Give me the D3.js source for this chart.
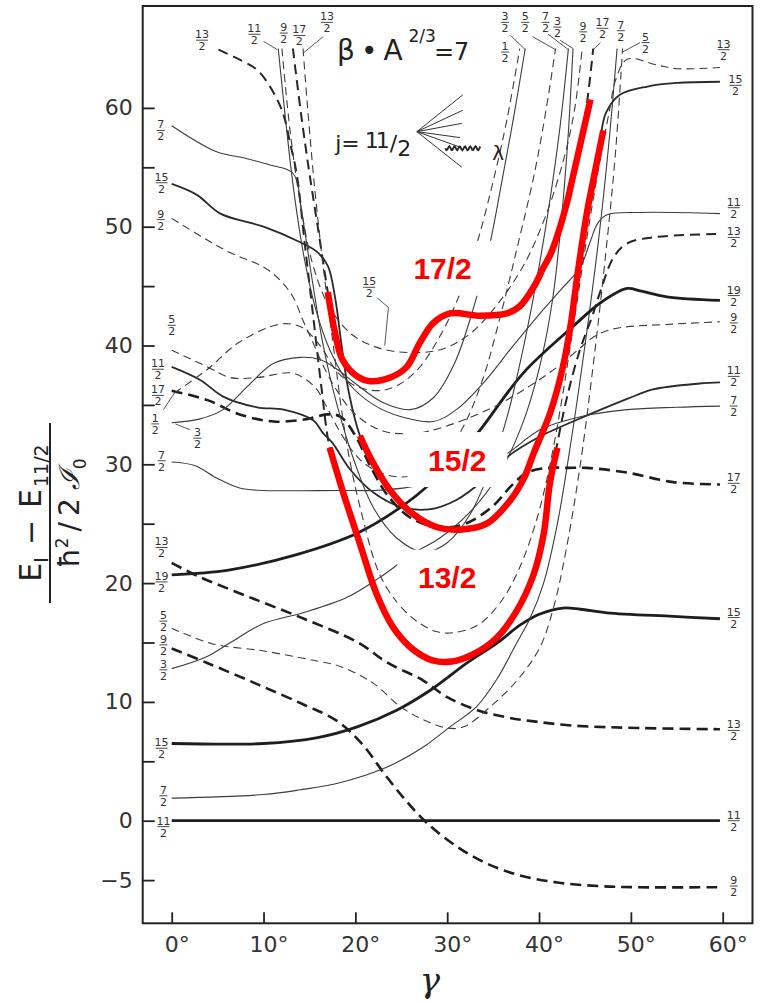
<!DOCTYPE html>
<html>
<head>
<meta charset="utf-8">
<script src="https://cdn.jsdelivr.net/npm/d3@7"></script>
<style>
  html, body { margin: 0; padding: 0; background: #fff; }
  svg { display: block; }
</style>
</head>
<body>
<svg id="chart" width="762" height="1002"></svg>
<script>
// ---- Energy levels E_I - E_11/2 (units of hbar^2/2J0) versus gamma (deg) ----
// Each array is one level: [gamma, energy] pairs.

// lowest levels
const lvl11_ground = [[0,0],[59.7,0]];
const lvl9_low = [[0,14.5],[3.8,13.3],[9.3,11.5],[14.3,9.8],[18,8.4],[20.8,6.4],[23.2,3.9],[25.5,1.7],[27.8,-0.2],[31.1,-2.2],[34.3,-3.6],[37.9,-4.6],[42.0,-5.2],[46.4,-5.5],[50.7,-5.6],[59.7,-5.6]];
const lvl15_low = [[0,6.5],[10,6.5],[15.9,7.0],[20.2,7.9],[24.5,9.3],[28.2,11.0],[32.2,13.3],[35.5,15.0],[38.0,16.5],[40.1,17.4],[42.6,17.9],[44.5,17.8],[47.4,17.5],[54.6,17.2],[59.7,17.0]];
const lvl13_low = [[0,21.7],[2.8,20.6],[8.2,18.9],[14.4,17.0],[20.3,15.0],[23.5,13.3],[27.4,11.8],[30.0,10.4],[33.3,9.3],[36.5,8.7],[39.0,8.4],[43.8,8.0],[51,7.8],[59.7,7.7]];
const lvl7_low = [[0,1.9],[10,2.2],[14,2.6],[18.3,3.2],[23.4,4.5],[27.4,6.2],[30.3,7.9],[33.2,9.6],[35.4,11.9],[37.6,15.0],[39.0,17.0],[40.5,20],[42,25],[43.5,32],[45,40],[46.5,49],[47.6,57],[48.5,65]];
const lvl5_low = [[0,16.2],[4.4,14.9],[9.9,14.3],[15.4,13.5],[18.3,13.0],[21.9,11.6],[24.9,9.6],[27.4,8.5],[30,7.8],[31.8,7.9],[34.7,9.6],[37.6,11.8],[40.1,14.6],[41.6,18],[43,23],[44.5,30],[46,39],[47.3,48],[48.3,56],[49.1,65]];
const lvl3_low = [[0,12.8],[3.8,13.8],[6.4,15.0],[10,16.6],[14.3,17.5],[19.1,18.8],[22.7,20.5],[26.3,22.5],[29.2,23.8],[32.5,26],[35.5,29],[38,33],[40,38],[41.5,44],[42.6,52],[43.2,58],[43.7,65]];
const lvl19 = [[0,20.7],[6.2,21.1],[13.6,22.4],[20.2,24.2],[24.6,26.2],[28.5,28.6],[31.5,31.0],[33.6,32.9],[38.3,37.7],[43.7,41.6],[46.7,43.6],[49.6,44.8],[51.0,44.6],[53.9,44.1],[59.7,43.8]];

// middle and upper levels
const lvl17_a = [[0,36.2],[3.9,35.4],[7.4,34.2],[11.1,33.6],[14.7,33.8],[16.9,34.2],[18.4,34.0],[20,32.4],[21.6,29.9],[23.5,27.4],[26,25.5],[29,24.7],[32,25.0],[35,26.5],[37,28.2],[38.7,29.3],[41,29.7],[43.1,29.7],[45.2,29.7],[49.6,29.3],[54.6,28.5],[59.7,28.3]];
const lvl17_b = [[13.2,65],[14.0,60],[14.9,55],[15.9,50],[17.0,44.5],[17.7,41.4],[18.6,38.8],[20.2,37.4],[21.6,37.0],[23.8,37.3],[25.6,38.2],[27.0,40.2],[28.5,41.9],[30.3,42.7],[33.6,42.5],[36.5,42.7],[37.9,43.3],[39.4,44.9],[40.5,46.6],[41.2,47.6],[42.1,49.5],[43.1,52.2],[44.0,55.4],[44.9,58.8],[45.4,61.5],[45.9,65]];
const lvl15_b = [[0,53.6],[2.7,52.7],[5.3,51.1],[10,50.0],[13.7,48.8],[15.8,47.9],[17.0,46.7],[17.8,44.0],[18.5,40],[19.3,36],[20.5,32.4],[21.6,30.6],[23.8,27.8],[26.3,25.8],[28.9,24.7],[31.4,24.5],[34.3,25.0],[36.9,27.0],[38.4,28.9],[39.4,30.9],[41.2,34.3],[42.6,38.2],[43.5,42],[44.1,45.5],[45.2,51.1],[45.9,53.9],[46.7,57.6],[47.3,59.6],[48.8,61.1],[51.8,61.8],[55,62.1],[59.7,62.2]];
const lvl13_b = [[5.1,64.9],[7.8,63.9],[9.3,63.2],[10.7,61.8],[12.1,59.6],[12.9,57.0],[13.6,54.5],[14.5,48.5],[15.4,42.5],[16.3,36.5],[17.2,31.4],[18.6,27.8],[20.5,23.3],[22.3,19.1],[24.1,16.3],[26.3,14.4],[28.4,13.5],[30.5,13.4],[32.8,14.0],[35.4,15.4],[37.6,17.7],[39.4,20.7],[40.5,24.1],[41.2,28.5],[41.9,31.4],[43,35.5],[44.4,39.5],[45.9,42.7],[46.7,44.6],[48.1,47.4],[49.6,48.6],[52.4,49.1],[59.7,49.4]];
const lvl13_c = [[14.3,65],[14.8,60],[15.6,53],[16.6,46],[17.6,40],[18.6,34],[19.6,29.5],[20.8,25.5],[22.2,21.6],[23.5,19.5],[26,17.2],[28.9,15.9],[31.3,15.9],[33.6,16.6],[36,18.6],[38,21.5],[39.8,25.5],[41.2,30],[42.5,35.5],[43.8,42],[45.2,49],[46.5,55],[47.6,59.5],[48.4,62.5],[49.6,64.1],[52.9,63.6],[55,63.3],[59.7,63.4]];
const lvl11_b = [[11.6,65],[12.4,59],[13.3,53],[14.4,47.5],[15.7,43],[17.3,39.5],[19.3,36.8],[22,35],[25,34.0],[28.5,33.6],[31,34.6],[34,36.9],[37,39.8],[40,42.6],[42.5,44.8],[44.5,46.6],[45.6,48.8],[46.4,50.3],[47.4,51.0],[51,51.2],[59.7,51.1]];
const lvl11_c = [[0,38.2],[3.1,37.1],[5.6,35.7],[9.3,34.8],[12.2,34.6],[15.4,33.7],[16.5,32.6],[17.5,31.8],[19.5,29.5],[22,27.6],[25,26.4],[28,26.2],[31,27],[34,28.7],[36.5,30.6],[40,32.3],[43.7,33.6],[49.6,35.5],[52.4,36.3],[57.5,36.8],[59.7,36.9]];
const lvl9_b = [[12.0,65],[12.9,58],[14.0,52],[15.3,47],[17,43.5],[19.5,41],[22.5,39.8],[26,39.4],[29.5,39.7],[32.5,41],[35.5,43.5],[38.5,47],[41,51.5],[42.8,56],[43.9,60],[44.7,65]];
const lvl9_c = [[0,50.7],[3.4,49.1],[6.4,47.8],[10,46.6],[11.8,45.5],[13.2,44.1],[14.3,42.1],[15.3,40.4],[16.5,38.3],[18,36.2],[20,34.2],[23,32.8],[26.5,32.6],[29,33],[32,33.8],[35.5,35],[39,36.6],[42,38.2],[44.5,39.8],[45.9,40.7],[48.1,41.4],[54.6,41.8],[59.7,42.0]];
const lvl7_b = [[0,58.5],[4.9,56.3],[7.8,55.8],[10.7,55.2],[13.2,54.5],[14.2,51],[15.2,46],[16.5,40],[18,35],[20,30],[22,26.3],[24.5,23.8],[27.5,22.6],[30,23.4],[32.5,25.8],[34.8,29.8],[36.7,34.5],[38.4,40.2],[39.9,46.2],[41.2,52.3],[42.3,58.5],[43.2,65]];
const lvl7_c = [[0,30.2],[2.5,29.9],[5,28.8],[7.4,28.0],[10,27.8],[18.3,27.8],[22,27.8],[26,28.1],[29,28.7],[32,29.5],[34.5,30.2],[36.5,30.9],[40.1,32.9],[44.5,34.0],[49.6,34.6],[55,34.8],[59.7,34.9]];
const lvl5_b = [[0,39.6],[3.9,38.2],[6.4,37.3],[9.3,37.3],[12.9,37.7],[14.3,37.3],[15.8,36.3],[16.9,34.8],[18.5,32.5],[20.5,30.4],[23,29.2],[26,29],[29,30.2],[31.5,32.8],[33.8,37],[35.8,42.5],[37.7,48.5],[39.5,54.5],[40.8,60],[41.8,65]];
const lvl3_b = [[0,33.5],[3,33.8],[5.6,34.6],[8.3,36.6],[11.1,38.5],[14.0,39.0],[16.2,38.8],[18,38],[20,36.8],[23,35.2],[26,34.6],[28.5,35.6],[30.8,38.5],[32.8,43],[34.5,48],[36,54],[37.3,59.5],[38.5,65]];
const lvl1 = [[0.3,36.0],[3.9,38.0],[7.4,40.3],[11.8,41.8],[14.0,41.6],[15.4,40.7],[16.5,39.6],[18,37.8],[20,36.6],[22.5,36.2],[24.5,36.6],[26.8,38],[29,40.5],[31.2,44],[33.2,48.5],[35,53.8],[36.5,59],[37.9,65]];

// bands followed through the crossings
const band17 = [[17.0,44.5],[17.7,41.4],[18.6,38.8],[20.2,37.4],[21.6,37.0],[23.8,37.3],[25.6,38.2],[27.0,40.2],[28.5,41.9],[30.3,42.7],[33.6,42.5],[36.5,42.7],[37.9,43.3],[39.4,44.9],[40.5,46.6],[41.2,47.6],[42.1,49.5],[43.1,52.2],[43.6,53.9],[44.6,57.3],[45.6,60.7]];
const band15 = [[20.5,32.4],[21.6,30.6],[23.8,27.8],[26.3,25.8],[28.9,24.7],[31.4,24.5],[34.3,25.0],[36.9,27.0],[38.4,28.9],[39.4,30.9],[41.2,34.3],[42.6,38.2],[43.5,42],[44.1,45.5],[45.2,51.1],[45.9,53.9],[47.0,58.1]];
const band13 = [[17.2,31.4],[18.6,27.8],[20.5,23.3],[22.3,19.1],[24.1,16.3],[26.3,14.4],[28.4,13.5],[30.5,13.4],[32.8,14.0],[35.4,15.4],[37.6,17.7],[39.4,20.7],[40.5,24.1],[41.2,28.5],[42.0,31.4]];
const bandNames = ["17/2", "15/2", "13/2"];
const bandBoxes = [[29.5,46.5],[31.1,30.4],[30.0,20.5]];   // label box centres (gamma, energy)

// axis ticks
const xTicks = [0,10,20,30,40,50,60];
const yTicks = [-5,0,5,10,15,20,25,30,35,40,45,50,55,60];
const yTickLabels = [-5,0,10,20,30,40,50,60];

// spin labels: [I, gamma, energy]
const spinLabels = [
  ["7/2",-1.2,58.1],["15/2",-1.1,53.7],["9/2",-1.2,50.6],["5/2",0.0,41.7],["11/2",-1.5,38.0],["17/2",-1.5,35.8],
  ["1/2",-1.8,33.4],["3/2",2.8,32.2],["7/2",-1.1,30.3],["13/2",-1.1,23.0],["19/2",-1.1,20.1],["5/2",-0.9,16.8],
  ["9/2",-0.9,14.8],["3/2",-0.9,12.7],["15/2",-1.1,6.1],["7/2",-0.9,2.1],["11/2",-0.9,-0.5],
  ["13/2",3.3,65.7],["11/2",9.0,66.2],["9/2",12.2,66.3],["17/2",13.9,66.1],["13/2",16.9,67.2],
  ["3/2",36.3,67.2],["1/2",36.3,64.7],["5/2",38.5,67.2],["7/2",40.7,67.2],["3/2",42.0,66.8],["9/2",44.8,66.4],
  ["17/2",46.9,66.7],["7/2",48.9,66.5],["5/2",51.6,65.5],["13/2",60.1,64.9],["15/2",61.4,61.9],
  ["11/2",61.2,51.6],["13/2",61.2,49.1],["19/2",61.2,44.2],["9/2",61.2,41.9],["11/2",61.2,37.4],["7/2",61.2,34.9],
  ["17/2",61.2,28.4],["15/2",61.2,17.1],["13/2",61.2,7.6],["11/2",61.2,0.0],["9/2",61.2,-5.5],
  ["15/2",21.5,44.9]
];
// leader strokes from labels to their levels
const leaders = [
  [[10.0,65.6],[11.5,64.9]],[[16.5,66.0],[14.3,64.6]],[[36.9,66.1],[38.5,64.9]],[[39.3,66.0],[41.8,64.9]],
  [[41.0,66.2],[43.2,64.9]],[[42.3,65.7],[43.7,65.0]],[[46.7,65.5],[45.9,64.9]],[[51.0,65.5],[49.1,64.7]],
  [[-0.9,34.6],[0.3,36.0]],[[2.0,32.9],[0.4,33.4]],[[22.4,44.0],[23.6,43.2],[23.2,40.0]]
];
// coupling sketch next to "j = 11/2"
const fanOrigin = [26.7,58.0];
const fanEnds = [[31.7,61.1],[31.7,59.8],[31.6,58.7],[31.4,57.5],[31.4,56.7],[31.6,55.0]];

const levels = [
  {pts: lvl11_ground, s:"TS"}, {pts: lvl9_low, s:"TD"}, {pts: lvl15_low, s:"TS"}, {pts: lvl13_low, s:"TD"},
  {pts: lvl7_low, s:"S"}, {pts: lvl5_low, s:"D"}, {pts: lvl3_low, s:"S"}, {pts: lvl19, s:"TS"},
  {pts: lvl17_a, s:"TD"}, {pts: lvl17_b, s:"TD2"}, {pts: lvl15_b, s:"MS"}, {pts: lvl13_b, s:"TD2"},
  {pts: lvl13_c, s:"D"}, {pts: lvl11_b, s:"S"}, {pts: lvl11_c, s:"MS"}, {pts: lvl9_b, s:"D"},
  {pts: lvl9_c, s:"D"}, {pts: lvl7_b, s:"S"}, {pts: lvl7_c, s:"S"}, {pts: lvl5_b, s:"D"},
  {pts: lvl3_b, s:"S"}, {pts: lvl1, s:"D"}
];
const styles = {
  TS: {w: 2.8, dash: null, c: "#1e1e1e"},
  MS: {w: 1.8, dash: null, c: "#2a2a2a"},
  S:  {w: 1.1, dash: null, c: "#3c3c3c"},
  TD: {w: 2.6, dash: "11,6", c: "#1e1e1e"},
  TD2:{w: 2.0, dash: "10,6", c: "#262626"},
  D:  {w: 1.1, dash: "8,5", c: "#3c3c3c"}
};

// ---- layout ----
const W = 762, H = 1002;
const frame = {left: 142.7, right: 752.5, top: 6, bottom: 923.3};
const x = d3.scaleLinear().domain([0, 60]).range([171.7, 722.7]);
const y = d3.scaleLinear().domain([0, 60]).range([820.7, 107.9]);
const FONT = "'DejaVu Sans', 'Liberation Sans', sans-serif";

const svg = d3.select("#chart");
svg.append("rect").attr("width", W).attr("height", H).attr("fill", "#fff");

const line = d3.line().x(d => x(d[0])).y(d => y(d[1])).curve(d3.curveCatmullRom.alpha(0.5));

// level curves
svg.append("g").selectAll("path").data(levels).join("path")
  .attr("d", d => line(d.pts))
  .attr("fill", "none")
  .attr("stroke", d => styles[d.s].c)
  .attr("stroke-width", d => styles[d.s].w)
  .attr("stroke-dasharray", d => styles[d.s].dash)
  .attr("stroke-linecap", "butt");

// frame
svg.append("rect")
  .attr("x", frame.left).attr("y", frame.top)
  .attr("width", frame.right - frame.left).attr("height", frame.bottom - frame.top)
  .attr("fill", "none").attr("stroke", "#222").attr("stroke-width", 2);

// axes with inward ticks
const yAxis = d3.axisLeft(y).tickValues(yTicks).tickSize(-12).tickPadding(10)
  .tickFormat(v => yTickLabels.includes(v) ? (v < 0 ? "\u2212" + Math.abs(v) : String(v)) : "");
svg.append("g").attr("transform", `translate(${frame.left},0)`).call(yAxis)
  .call(g => g.select(".domain").remove())
  .call(g => g.selectAll("line").attr("stroke", "#222").attr("stroke-width", 1.8))
  .call(g => g.selectAll("text").attr("font-size", 22).attr("font-family", FONT).attr("fill", "#333"));

const xAxis = d3.axisBottom(x).tickValues(xTicks).tickSize(-11).tickPadding(13).tickFormat(v => v + "\u00b0");
svg.append("g").attr("transform", `translate(0,${frame.bottom})`).call(xAxis)
  .call(g => g.select(".domain").remove())
  .call(g => g.selectAll("line").attr("stroke", "#222").attr("stroke-width", 1.8))
  .call(g => g.selectAll("text").attr("font-size", 22).attr("font-family", FONT).attr("fill", "#333").attr("dx", 5));

// axis titles
svg.append("text").attr("x", 430).attr("y", 992).attr("text-anchor", "middle")
  .attr("font-family", "'DejaVu Serif', serif").attr("font-style", "italic").attr("font-size", 34).attr("fill", "#222")
  .text("\u03b3");

const yt = svg.append("g").attr("transform", "translate(50,513) rotate(-90)")
  .attr("font-family", FONT).attr("fill", "#222");
const num = yt.append("text").attr("y", -9).attr("text-anchor", "middle").attr("font-size", 30);
num.append("tspan").text("E");
num.append("tspan").attr("dy", 7).attr("font-size", 19).text("I");
num.append("tspan").attr("dy", -7).attr("dx", 12).text("\u2212");
num.append("tspan").attr("dx", 12).text("E");
num.append("tspan").attr("dy", 7).attr("font-size", 19).attr("dx", 2).text("11/2");
yt.append("line").attr("x1", -90).attr("x2", 90).attr("stroke", "#222").attr("stroke-width", 2);
const den = yt.append("text").attr("y", 29).attr("text-anchor", "middle").attr("font-size", 28);
den.append("tspan").text("\u0127");
den.append("tspan").attr("dy", -11).attr("font-size", 17).text("2");
den.append("tspan").attr("dy", 11).attr("dx", 6).text("/");
den.append("tspan").attr("dx", 6).text("2");
den.append("tspan").attr("dx", 8).attr("font-family", "'DejaVu Serif', serif").attr("font-style", "italic").text("\u2110");
den.append("tspan").attr("dy", 7).attr("font-size", 17).text("0");

// leader strokes
const plain = d3.line().x(d => x(d[0])).y(d => y(d[1]));
svg.append("g").selectAll("path").data(leaders).join("path")
  .attr("d", plain).attr("fill", "none").attr("stroke", "#444").attr("stroke-width", 0.9);

// spin labels as small stacked fractions
const fr = svg.append("g").attr("font-family", FONT).attr("fill", "#333").attr("font-size", 11);
spinLabels.forEach(([lab, g, v]) => {
  const [n, d] = lab.split("/");
  const cx = x(g), cy = y(v);
  fr.append("text").attr("x", cx).attr("y", cy - 2).attr("text-anchor", "middle").text(n);
  fr.append("line").attr("x1", cx - (n.length > 1 ? 6 : 4)).attr("x2", cx + (n.length > 1 ? 6 : 4))
    .attr("y1", cy).attr("y2", cy).attr("stroke", "#333").attr("stroke-width", 0.9);
  fr.append("text").attr("x", cx).attr("y", cy + 10).attr("text-anchor", "middle").text(d);
});

// parameter annotation
const ann = svg.append("text").attr("x", x(18.0)).attr("y", y(64.0))
  .attr("font-family", FONT).attr("font-size", 28).attr("fill", "#222");
ann.append("tspan").text("\u03b2");
ann.append("tspan").attr("dx", 6).text("\u2022");
ann.append("tspan").attr("dx", 6).text("A");
ann.append("tspan").attr("dy", -18).attr("font-size", 17).attr("dx", 6).text("2/3");
ann.append("tspan").attr("dy", 18).attr("font-size", 24).attr("dx", -2).text("=7");

// "j = 11/2" written as one text with a raised 11 and a lowered 2
const jt = svg.append("text").attr("x", x(17.8)).attr("y", y(56.4))
  .attr("font-family", FONT).attr("font-size", 22).attr("fill", "#222");
jt.append("tspan").text("j=");
jt.append("tspan").attr("dx", 5).attr("dy", -3).attr("letter-spacing", -3).text("11");
jt.append("tspan").attr("dx", 3).attr("dy", 3).text("/");
jt.append("tspan").attr("dy", 5).text("2");

svg.append("g").selectAll("line").data(fanEnds).join("line")
  .attr("x1", x(fanOrigin[0])).attr("y1", y(fanOrigin[1]))
  .attr("x2", d => x(d[0])).attr("y2", d => y(d[1]))
  .attr("stroke", "#333").attr("stroke-width", 1);
// wavy stroke and lambda
const wav = d3.range(0, 36).map(i => [x(29.8) + i, y(56.6) + 2 * Math.sin(i * 1.2)]);
svg.append("path").attr("d", d3.line()(wav)).attr("fill", "none").attr("stroke", "#222").attr("stroke-width", 1.8);
svg.append("text").attr("x", x(34.9)).attr("y", y(55.6)).attr("font-family", FONT).attr("font-size", 20).attr("fill", "#222").text("\u03bb");

// highlighted bands
const bands = [band17, band15, band13];
svg.append("g").selectAll("path").data(bands).join("path")
  .attr("d", line).attr("fill", "none").attr("stroke", "#ff0000")
  .attr("stroke-width", 6.5).attr("stroke-linecap", "butt").attr("stroke-linejoin", "round");

const bw = 100, bh = 55;
const bx = svg.append("g");
bandBoxes.forEach(([g, v], i) => {
  bx.append("rect").attr("x", x(g) - bw / 2).attr("y", y(v) - bh / 2).attr("width", bw).attr("height", bh).attr("fill", "#fff");
  bx.append("text").attr("x", x(g)).attr("y", y(v) + 11).attr("text-anchor", "middle")
    .attr("font-family", "'Liberation Sans', Arial, sans-serif").attr("font-weight", "bold").attr("font-size", 30)
    .attr("fill", "#ff0000").text(bandNames[i]);
});
</script>
</body>
</html>
